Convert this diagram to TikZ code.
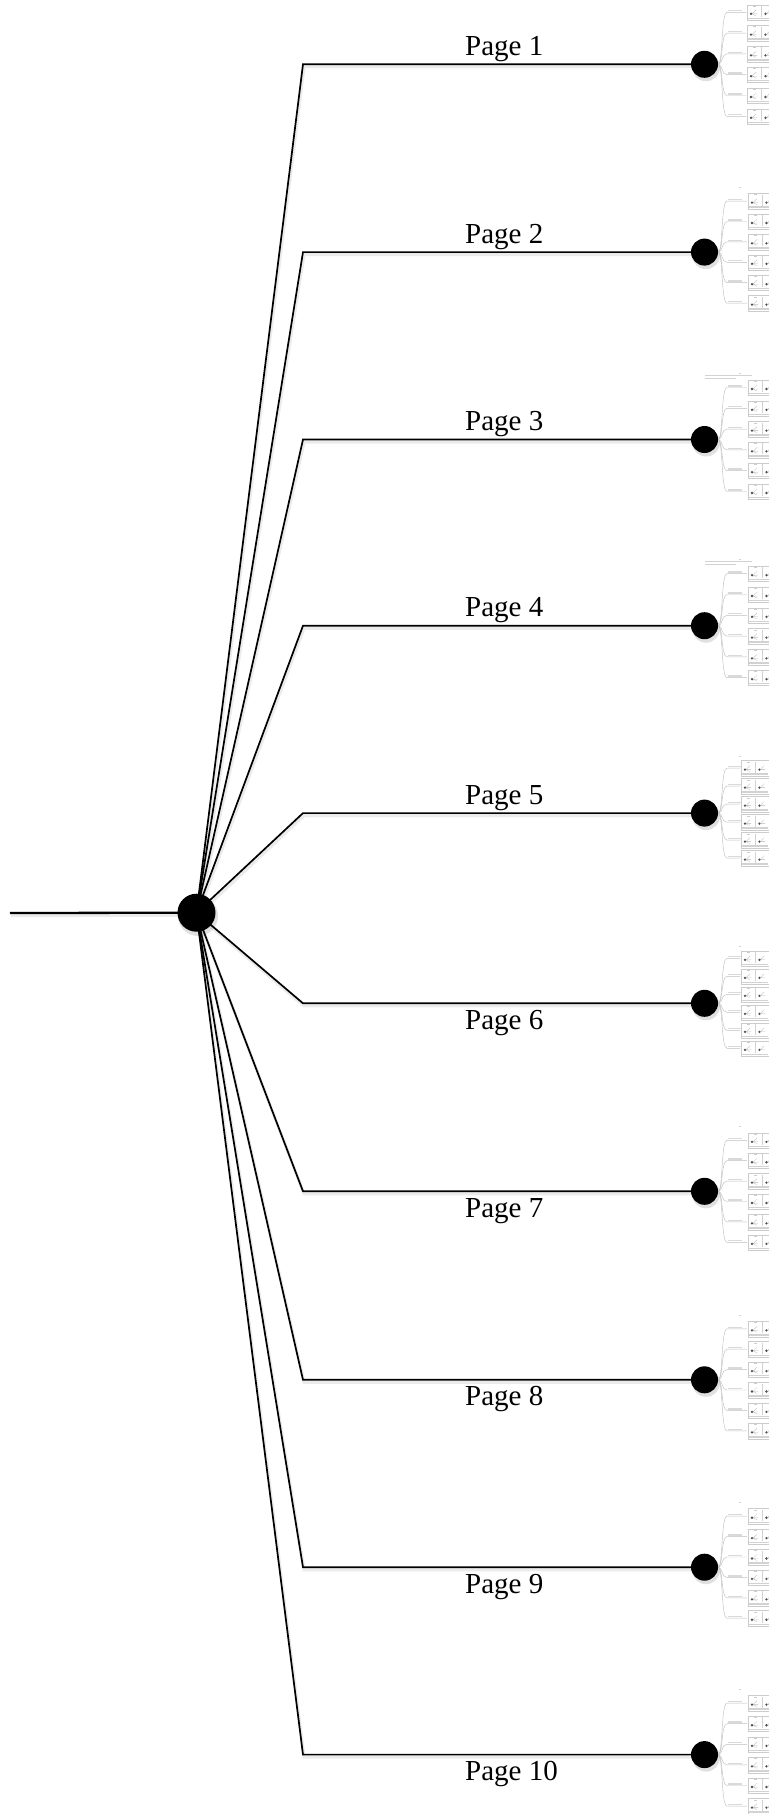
\documentclass[tikz,border=0pt]{standalone}
\usepackage{fontspec}
\setmainfont{Liberation Serif}
\usetikzlibrary{backgrounds}
\begin{document}
\begin{tikzpicture}[x=1pt,y=-1pt,
  link/.style={line width=1.7pt, black, line join=miter},
  leadlink/.style={line width=2.3pt, black},
  shadowline/.style={line width=3.2pt, black, opacity=0.08, line join=miter},
  hubdot/.style={circle, fill=black, minimum size=38pt, inner sep=0pt},
  enddot/.style={circle, fill=black, minimum size=27pt, inner sep=0pt},
  pagelabel/.style={font=\fontsize{29}{34}\selectfont, anchor=base west, inner sep=0pt},
  thumbline/.style={gray!50, line width=0.45pt},
  thumbbox/.style={draw=gray!40, line width=0.45pt, fill=white},
  thumbtext/.style={fill=gray!30},
]
\useasboundingbox (0,0) rectangle (768,1814);

% hub
\fill[black, opacity=0.12] (198,916) circle (20);
\node[hubdot] (hub) at (196.5,912.7) {};
\coordinate (start) at (10,913);

% page ends
\foreach \i/\yy in {1/64.3, 2/252.1, 3/439.5, 4/625.7, 5/813.1, 6/1003.3, 7/1191.3, 8/1379.8, 9/1567.2, 10/1754.6} {
  \coordinate (e\i) at (303,\yy);
  \fill[black, opacity=0.12] (706,\yy+3) circle (14);
  \node[enddot] (p\i) at (704.5,\yy) {};
}

\begin{pgfonlayer}{background}
  \draw[shadowline] ([shift={(1,2.5)}]start) -- ([shift={(1,2.5)}]hub.center);
  \draw[leadlink] (start) -- (hub.center);
  \foreach \i in {1,...,10} {
    \draw[shadowline] ([shift={(1,2.5)}]hub.center) -- ([shift={(1,2.5)}]e\i) -- ([shift={(1,2.5)}]p\i.center);
    \draw[link] (hub.center) -- (e\i) -- (p\i.center);
  }
\end{pgfonlayer}

% labels
\foreach \i/\yy in {1/64.3, 2/252.1, 3/439.5, 4/625.7, 5/813.1} {
  \node[pagelabel] (l\i) at (465,\yy-9) {Page \i};
}
\foreach \i/\yy in {6/1003.3, 7/1191.3, 8/1379.8, 9/1567.2, 10/1754.6} {
  \node[pagelabel] (l\i) at (465,\yy+26) {Page \i};
}

% thumbnails of the sub-pages
\foreach \i/\yy/\sp/\bx in {1/64.3/20.8/747, 2/252.1/20.4/748, 3/439.5/20.8/748, 4/625.7/20.8/748, 5/813.1/18/741, 6/1003.3/18/741, 7/1191.3/20.4/748, 8/1379.8/20.4/748, 9/1567.2/20.4/748, 10/1754.6/20.6/748} {
  \foreach \k in {-2.5,-1.5,-0.5,0.5,1.5,2.5} {
    \pgfmathsetmacro\yb{\yy+\k*\sp}
    \draw[thumbline] (p\i.east) .. controls (723,\yy) and (721,\yb) .. (727,\yb) -- (\bx-1,\yb);
    \fill[thumbtext] (728,\yb-2.3) rectangle (742,\yb-0.9);
    \draw[thumbbox] (\bx,\yb-7.5) rectangle (772,\yb+8);
    \draw[gray!35, line width=0.3pt] (\bx+14.5,\yb-6.5) -- (\bx+14.5,\yb+4.5);
    \fill[gray!40] (\bx+6,\yb-6.6) rectangle (\bx+9,\yb-5.8);
    \fill[black!70] (\bx+4,\yb+1.5) circle (1.3);
    \draw[gray!55, line width=0.3pt] (\bx+5,\yb+1.5) -- (\bx+9,\yb-2.5) (\bx+5,\yb+1.5) -- (\bx+10,\yb+1.5) (\bx+5,\yb+1.5) -- (\bx+9,\yb+3.5);
    \fill[black!70] (\bx+18.5,\yb+1.5) circle (1.3);
    \draw[gray!55, line width=0.3pt] (\bx+19.5,\yb+1.5) -- (\bx+23,\yb-2.5) (\bx+19.5,\yb+1.5) -- (\bx+24,\yb+1.5);
    \fill[gray!35] (\bx+1,\yb+5.3) rectangle (\bx+27,\yb+6.7);
  }
  \fill[gray!35] (739,\yy-3.2*\sp) rectangle (741,\yy-3.2*\sp+1);
}
% headers above pages 3 and 4
\fill[gray!35] (705,374.5) rectangle (752,375.8);
\fill[gray!35] (705,377.5) rectangle (736,378.8);
\fill[gray!35] (705,561) rectangle (752,562.3);
\fill[gray!35] (705,564) rectangle (736,565.3);
\end{tikzpicture}
\end{document}
